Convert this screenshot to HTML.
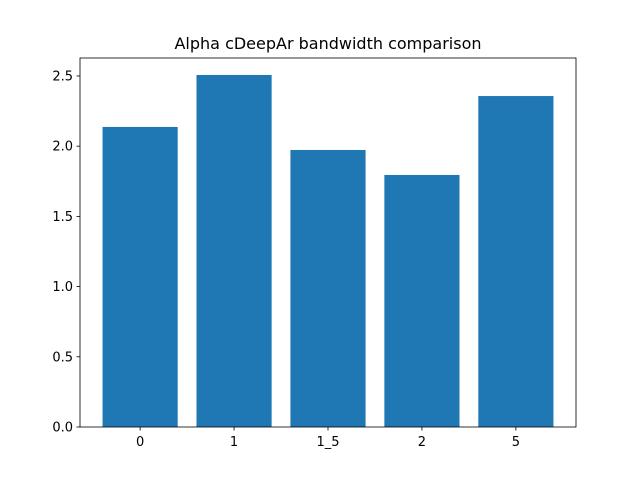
<!DOCTYPE html>
<html><head><meta charset="utf-8"><style>
body{margin:0;background:#fff;font-family:"Liberation Sans","DejaVu Sans",sans-serif}
svg text{font-family:"DejaVu Sans","Liberation Sans",sans-serif}
</style></head><body>
<svg id="c" width="640" height="480" xmlns="http://www.w3.org/2000/svg">
<rect width="640" height="480" fill="#fff"/>
<text x="328" y="49" font-size="16" text-anchor="middle">Alpha cDeepAr bandwidth comparison</text>
</svg>
<script>
const categories=["0","1","1_5","2","5"];
const values=[2.137,2.507,1.973,1.795,2.357];
const yTicks=[0,0.5,1,1.5,2,2.5];
const yTickLabels=["0.0","0.5","1.0","1.5","2.0","2.5"];
const L=80,R=576,T=58,B=427;
const ymax=2.628,xmin=-0.64,xmax=4.64;
const sx=v=>L+(v-xmin)/(xmax-xmin)*(R-L);
const sy=v=>B-v/ymax*(B-T);
const svg=document.getElementById('c');const NS='http://www.w3.org/2000/svg';
function mk(t,a){const e=document.createElementNS(NS,t);for(const k in a)e.setAttribute(k,a[k]);svg.appendChild(e);return e;}
categories.forEach((c,i)=>{
 const b=mk('rect',{x:sx(i-0.4),y:sy(values[i]),width:sx(0.4)-sx(-0.4),height:B-sy(values[i]),fill:'#1f77b4'});
 
 
 const tk=mk('line',{x1:sx(i),x2:sx(i),y1:B,y2:B+3.5,stroke:'#000','stroke-width':0.8});
 
 
 const t=mk('text',{x:sx(i),y:B+19,'font-size':13,'text-anchor':'middle'});t.textContent=c;
 
 
});
yTicks.forEach((v,i)=>{
 const tk=mk('line',{x1:L-3.5,x2:L,y1:sy(v),y2:sy(v),stroke:'#000','stroke-width':0.8});
 
 
 const t=mk('text',{x:L-7,y:sy(v)+4.5,'font-size':13,'text-anchor':'end'});t.textContent=yTickLabels[i];
 
 
});
const f=mk('rect',{x:L,y:T,width:R-L,height:B-T,fill:'none',stroke:'#000','stroke-width':0.8});


</script>
</body></html>
